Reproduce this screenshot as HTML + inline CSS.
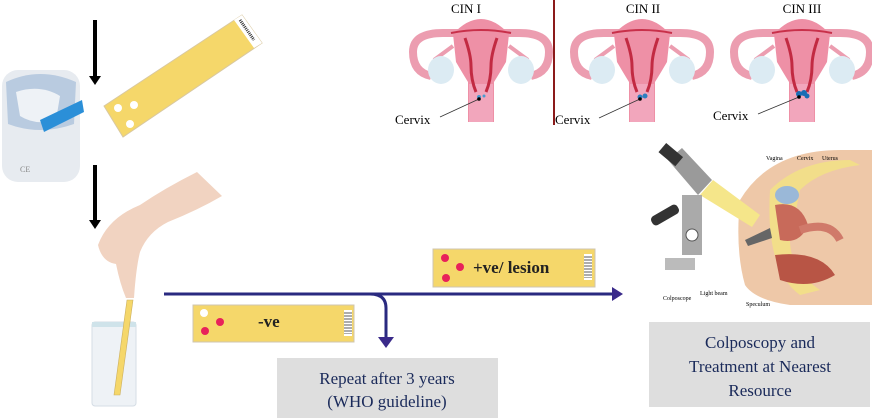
<!DOCTYPE html>
<html><head><meta charset="utf-8"><style>
html,body{margin:0;padding:0;background:#fff;}
svg{display:block;}
text{font-family:"Liberation Serif",serif;}
</style></head><body>
<svg width="872" height="420" viewBox="0 0 872 420" xmlns="http://www.w3.org/2000/svg">
<defs>
<g id="ut">
  <path d="M-50,76 Q-68,72 -68,52 Q-68,32 -35,33 L35,33 Q68,32 68,52 Q68,72 50,76" fill="none" stroke="#ec9db0" stroke-width="8"/>
  <path d="M-47,60 L-28,46 M47,60 L28,46" stroke="#ec9db0" stroke-width="4"/>
  <ellipse cx="-40" cy="70" rx="13" ry="14" fill="#dcebf3"/>
  <ellipse cx="40" cy="70" rx="13" ry="14" fill="#dcebf3"/>
  <path d="M-28,34 Q0,4 28,34 L25,62 Q18,74 13,82 L13,122 L-13,122 L-13,82 Q-18,74 -25,62 Z" fill="#ee90a6"/>
  <path d="M-12,84 L12,84 L12,122 L-12,122 Z" fill="#f2a6bc"/>
  <path d="M-30,33 Q0,27 30,33" stroke="#c8304a" stroke-width="2" fill="none"/>
  <path d="M-16,38 Q-10,55 -10,66 Q-10,80 -5,92 M16,38 Q10,55 10,66 Q10,80 5,92" stroke="#c22a42" stroke-width="3" fill="none"/>
</g>
<g id="bar"><rect width="8" height="26" fill="#fff"/><path d="M1,2v22M3,2v22M5,2v22M7,2v22" stroke="#333" stroke-width="0.8" stroke-dasharray="2 1"/></g>
</defs>

<!-- down arrows -->
<line x1="95" y1="20" x2="95" y2="78" stroke="#000" stroke-width="4"/>
<polygon points="89,76 101,76 95,85" fill="#000"/>
<line x1="95" y1="165" x2="95" y2="222" stroke="#000" stroke-width="4"/>
<polygon points="89,220 101,220 95,229" fill="#000"/>

<!-- vial -->
<rect x="2" y="70" width="78" height="112" rx="16" fill="#e7ebf0"/>
<path d="M6,82 Q40,66 76,82 L74,124 Q40,136 8,124 Z" fill="#b9cbe0"/>
<path d="M16,92 Q40,84 60,96 L56,120 Q36,126 20,116 Z" fill="#eef2f6"/>
<path d="M40,120 L82,100 L84,112 L44,132 Z" fill="#2b8fd8"/>
<text x="20" y="172" font-size="8" fill="#888">CE</text>

<!-- top strip -->
<polygon points="104,106 242,15 262,43 123,137" fill="#f5d76a" stroke="#d9c8a0"/>
<polygon points="242,15 262,43 254,48 234,20" fill="#fff"/>
<path d="M240,20 L254,40" stroke="#333" stroke-width="3" stroke-dasharray="1 1"/>
<circle cx="118" cy="108" r="4" fill="#fff"/><circle cx="134" cy="105" r="4" fill="#fff"/><circle cx="130" cy="124" r="4" fill="#fff"/>

<!-- arm / hand -->
<path d="M197,172 Q165,188 140,205 Q108,218 98,245 Q102,262 116,264 Q120,284 126,298 L134,298 Q136,268 140,252 Q148,232 168,222 Q198,210 222,196 Z" fill="#f1d3c1"/>
<!-- beaker -->
<rect x="92" y="322" width="44" height="84" rx="3" fill="#eef2f6" stroke="#d5dde5"/>
<rect x="92" y="322" width="44" height="5" fill="#cfe3ea"/>
<polygon points="127,300 133,300 120,395 114,395" fill="#f5d76a" stroke="#ccb060" stroke-width="0.6"/>

<!-- uterus -->
<use href="#ut" x="481" y="0"/>
<use href="#ut" x="642" y="0"/>
<use href="#ut" x="802" y="0"/>
<circle cx="479" cy="97" r="2" fill="#4a9cd0"/><circle cx="484" cy="96" r="1.5" fill="#4a9cd0"/>
<circle cx="640" cy="97" r="2.5" fill="#2e7fc0"/><circle cx="645" cy="96" r="2.5" fill="#2e7fc0"/>
<circle cx="799" cy="94" r="3" fill="#1a6db5"/><circle cx="804" cy="93" r="3" fill="#1a6db5"/><circle cx="807" cy="96" r="2.5" fill="#1a6db5"/>
<line x1="440" y1="117" x2="479" y2="99" stroke="#333" stroke-width="0.8"/>
<line x1="599" y1="118" x2="640" y2="99" stroke="#333" stroke-width="0.8"/>
<line x1="758" y1="114" x2="799" y2="97" stroke="#333" stroke-width="0.8"/>
<circle cx="479" cy="99" r="1.8" fill="#000"/><circle cx="640" cy="99" r="1.8" fill="#000"/><circle cx="799" cy="97" r="1.8" fill="#000"/>
<text x="466" y="13" font-size="13" text-anchor="middle">CIN I</text>
<text x="643" y="13" font-size="13" text-anchor="middle">CIN II</text>
<text x="802" y="13" font-size="13" text-anchor="middle">CIN III</text>
<text x="395" y="124" font-size="13">Cervix</text>
<text x="555" y="124" font-size="13">Cervix</text>
<text x="713" y="120" font-size="13">Cervix</text>
<line x1="554" y1="0" x2="554" y2="125" stroke="#8b1a1a" stroke-width="2"/>

<!-- main flow line -->
<line x1="164" y1="294" x2="614" y2="294" stroke="#2a2a80" stroke-width="3"/>
<polygon points="612,287 623,294 612,301" fill="#3a2a8a"/>
<path d="M370,294 Q386,294 386,308 L386,338" fill="none" stroke="#2a2a80" stroke-width="3"/>
<polygon points="378,337 394,337 386,348" fill="#3a2a8a"/>

<!-- -ve strip -->
<rect x="193" y="305" width="161" height="37" fill="#f5d76a" stroke="#cfc6b0"/>
<use href="#bar" x="344" y="310"/>
<circle cx="204" cy="313" r="4" fill="#fff"/><circle cx="220" cy="322" r="4" fill="#e8215a"/><circle cx="205" cy="331" r="4" fill="#e8215a"/>
<text x="258" y="327" font-size="17" font-weight="bold" fill="#222">-ve</text>

<!-- +ve strip -->
<rect x="433" y="249" width="162" height="38" fill="#f5d76a" stroke="#cfc6b0"/>
<use href="#bar" x="584" y="254"/>
<circle cx="445" cy="258" r="4" fill="#e8215a"/><circle cx="460" cy="267" r="4" fill="#e8215a"/><circle cx="446" cy="278" r="4" fill="#e8215a"/>
<text x="473" y="273" font-size="17" font-weight="bold" fill="#222">+ve/ lesion</text>

<!-- repeat box -->
<rect x="277" y="358" width="221" height="60" fill="#dedede"/>
<text x="387" y="384" font-size="17" fill="#1a2a5a" text-anchor="middle">Repeat after 3 years</text>
<text x="387" y="407" font-size="17" fill="#1a2a5a" text-anchor="middle">(WHO guideline)</text>

<!-- colposcopy illustration -->
<path d="M740,200 Q770,150 840,150 L872,150 L872,305 L790,305 Q755,300 745,285 Q735,250 740,200 Z" fill="#eec8a8"/>
<path d="M770,190 Q800,160 850,160 L860,165 Q820,170 800,190 L790,240 Q790,270 820,290 L800,295 Q765,270 770,190 Z" fill="#f2de8a"/>
<ellipse cx="787" cy="195" rx="12" ry="9" fill="#9ab8d8"/>
<path d="M775,205 Q800,200 808,225 Q800,245 780,240 Z" fill="#c86a5a"/>
<path d="M775,255 Q820,250 835,275 Q810,290 780,280 Z" fill="#b85545"/>
<path d="M800,230 Q830,220 840,240" stroke="#d07a6a" stroke-width="8" fill="none"/>
<polygon points="700,195 713,180 760,215 752,227" fill="#f5e68a"/>
<polygon points="668,160 682,148 712,180 698,195" fill="#9a9a9a"/>
<rect x="660" y="148" width="22" height="12" fill="#333" transform="rotate(40 670 154)"/>
<rect x="682" y="195" width="20" height="60" fill="#aaa"/>
<rect x="650" y="210" width="30" height="10" rx="4" fill="#333" transform="rotate(-30 665 215)"/>
<circle cx="692" cy="235" r="6" fill="#fff" stroke="#555"/>
<rect x="665" y="258" width="30" height="12" fill="#bbb"/>
<polygon points="745,240 770,228 772,238 748,246" fill="#666"/>
<text x="663" y="300" font-size="6" font-family="Liberation Sans">Colposcope</text>
<text x="700" y="295" font-size="6" font-family="Liberation Sans">Light beam</text>
<text x="746" y="306" font-size="6" font-family="Liberation Sans">Speculum</text>
<text x="766" y="160" font-size="6" font-family="Liberation Sans">Vagina</text>
<text x="797" y="160" font-size="6" font-family="Liberation Sans">Cervix</text>
<text x="822" y="160" font-size="6" font-family="Liberation Sans">Uterus</text>

<!-- colposcopy box -->
<rect x="649" y="322" width="221" height="85" fill="#dedede"/>
<text x="760" y="348" font-size="17" fill="#1a2a5a" text-anchor="middle">Colposcopy and</text>
<text x="760" y="372" font-size="17" fill="#1a2a5a" text-anchor="middle">Treatment at Nearest</text>
<text x="760" y="396" font-size="17" fill="#1a2a5a" text-anchor="middle">Resource</text>
</svg>
</body></html>
